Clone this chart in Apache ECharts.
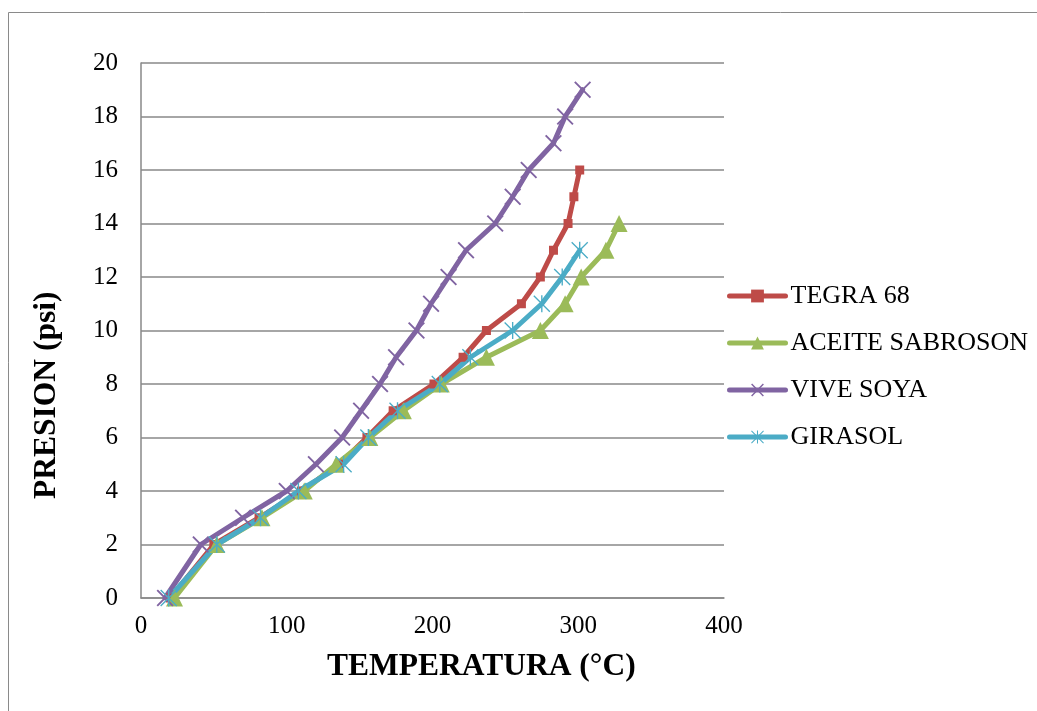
<!DOCTYPE html>
<html>
<head>
<meta charset="utf-8">
<title>Presión vs Temperatura</title>
<script src="https://cdn.jsdelivr.net/npm/echarts@6/dist/echarts.min.js"></script>
<style>
  html, body { margin: 0; padding: 0; background: #fff; }
  #chart { width: 1037px; height: 711px; }
</style>
</head>
<body>
<div id="chart"></div>
<script>
// Temperature (°C) / pressure (psi) readings for each oil
const seriesNames = ['TEGRA 68', 'ACEITE SABROSON', 'VIVE SOYA', 'GIRASOL'];

const tegraTemp = [20, 50, 81, 110, 136, 155, 173, 201, 221, 237, 261, 274, 283, 293, 297, 301];
const tegraPres = [0, 2, 3, 4, 5, 6, 7, 8, 9, 10, 11, 12, 13, 14, 15, 16];

const sabrosonTemp = [23, 52, 83, 112, 134, 157, 180, 206, 237, 274, 291, 302, 319, 328];
const sabrosonPres = [0, 2, 3, 4, 5, 6, 7, 8, 9, 10, 11, 12, 13, 14];

const soyaTemp = [16.5, 41, 70, 100, 120, 138, 151, 164, 175, 189, 199, 211, 223, 243, 255, 266, 283, 291, 303];
const soyaPres = [0, 2, 3, 4, 5, 6, 7, 8, 9, 10, 11, 12, 13, 14, 15, 16, 17, 18, 19];

const girasolTemp = [19, 52, 82, 108, 139, 156, 176, 205, 226, 255, 275, 289, 301];
const girasolPres = [0, 2, 3, 4, 5, 6, 7, 8, 9, 10, 11, 12, 13];

const xTicks = [0, 100, 200, 300, 400];
const yTicks = [0, 2, 4, 6, 8, 10, 12, 14, 16, 18, 20];

const pairs = (xs, ys) => xs.map((x, i) => [x, ys[i]]);

const serif = '"Liberation Serif", "DejaVu Serif", serif';
const gridGray = '#898989';

// thin cross and asterisk markers built as filled outlines
const crossPath = 'path://M0,0.8L0.8,0L10,9.2L9.2,10Z M9.2,0L10,0.8L0.8,10L0,9.2Z';
const starPath = 'path://M4.6,0H5.4V10H4.6Z M0,0.55L0.55,0L10,9.45L9.45,10Z M9.45,0L10,0.55L0.55,10L0,9.45Z';

function lineSeries(name, data, color, symbol, size) {
  return {
    name: name,
    type: 'line',
    data: data,
    symbol: symbol,
    symbolSize: size,
    showAllSymbol: true,
    lineStyle: { color: color, width: 5, join: 'round', cap: 'round' },
    itemStyle: { color: color },
    emphasis: { disabled: true },
    animation: false
  };
}

const chart = echarts.init(document.getElementById('chart'), null, { renderer: 'canvas' });

chart.setOption({
  backgroundColor: '#ffffff',
  animation: false,
  grid: { left: 141, right: 313, top: 63, bottom: 113, containLabel: false },
  xAxis: {
    type: 'value',
    min: xTicks[0],
    max: xTicks[xTicks.length - 1],
    interval: 100,
    axisLine: { show: true, lineStyle: { color: gridGray, width: 1.5 } },
    axisTick: { show: false },
    splitLine: { show: false },
    axisLabel: { color: '#000', fontFamily: serif, fontSize: 25, margin: 16 }
  },
  yAxis: {
    type: 'value',
    min: yTicks[0],
    max: yTicks[yTicks.length - 1],
    interval: 2,
    axisLine: { show: true, lineStyle: { color: gridGray, width: 1.5 } },
    axisTick: { show: false },
    splitLine: { show: true, lineStyle: { color: gridGray, width: 1.5 } },
    axisLabel: { color: '#000', fontFamily: serif, fontSize: 25, margin: 23 }
  },
  legend: {
    orient: 'vertical',
    left: 722,
    top: 278,
    itemWidth: 56,
    itemHeight: 16,
    itemGap: 21,
    data: seriesNames,
    lineStyle: { width: 5 },
    textStyle: { color: '#000', fontFamily: serif, fontSize: 26 },
    selectedMode: false
  },
  graphic: [
    {
      type: 'rect',
      shape: { x: 8.5, y: 12.5, width: 1200, height: 900 },
      style: { fill: 'none', stroke: '#8a8a8a', lineWidth: 1 },
      silent: true,
      z: -10
    },
    {
      type: 'text',
      left: 327,
      top: 651,
      style: { text: 'TEMPERATURA (°C)', fill: '#000', font: 'bold 31.5px ' + serif }
    },
    {
      type: 'text',
      x: 31,
      y: 499,
      rotation: Math.PI / 2,
      style: { text: 'PRESION (psi)', fill: '#000', font: 'bold 31.5px ' + serif, align: 'left', verticalAlign: 'top' }
    }
  ],
  series: [
    lineSeries(seriesNames[0], pairs(tegraTemp, tegraPres), '#BE4B48', 'rect', 9),
    lineSeries(seriesNames[1], pairs(sabrosonTemp, sabrosonPres), '#9BBB59', 'triangle', 17),
    lineSeries(seriesNames[2], pairs(soyaTemp, soyaPres), '#8064A2', crossPath, 17),
    lineSeries(seriesNames[3], pairs(girasolTemp, girasolPres), '#4BACC6', starPath, 17)
  ]
});
</script>
</body>
</html>
